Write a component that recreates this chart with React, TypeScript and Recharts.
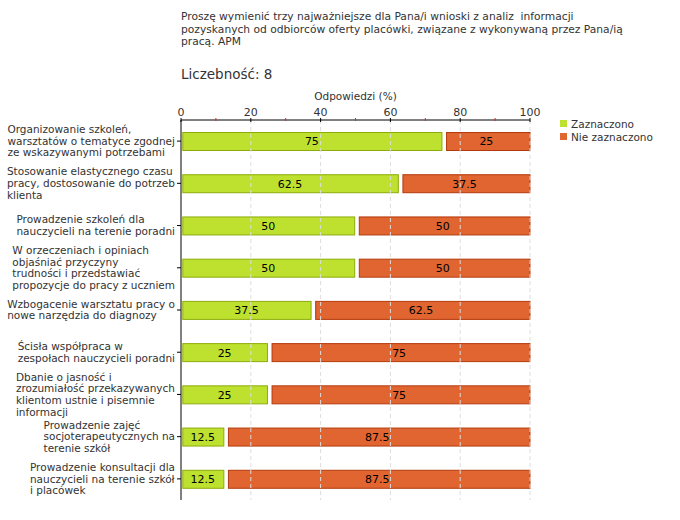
import React from 'react';
import { BarChart, Bar, XAxis, YAxis, ReferenceLine, LabelList } from 'recharts';

const categories: string[][] = [
  ['Organizowanie szkoleń,', 'warsztatów o tematyce zgodnej', 'ze wskazywanymi potrzebami'],
  ['Stosowanie elastycznego czasu', 'pracy, dostosowanie do potrzeb', 'klienta'],
  ['Prowadzenie szkoleń dla', 'nauczycieli na terenie poradni'],
  ['W orzeczeniach i opiniach', 'objaśniać przyczyny', 'trudności i przedstawiać', 'propozycje do pracy z uczniem'],
  ['Wzbogacenie warsztatu pracy o', 'nowe narzędzia do diagnozy'],
  ['Ścisła współpraca w', 'zespołach nauczycieli poradni'],
  ['Dbanie o jasność i', 'zrozumiałość przekazywanych', 'klientom ustnie i pisemnie', 'informacji'],
  ['Prowadzenie zajęć', 'socjoterapeutycznych na', 'terenie szkół'],
  ['Prowadzenie konsultacji dla', 'nauczycieli na terenie szkół', 'i placówek'],
];
const zaznaczono = [75, 62.5, 50, 50, 37.5, 25, 25, 12.5, 12.5];
const nieZaznaczono = [25, 37.5, 50, 50, 62.5, 75, 75, 87.5, 87.5];
const xTicks = [0, 10, 20, 30, 40, 50, 60, 70, 80, 90, 100];
const gridValues = [20, 40, 60, 80, 100];
const titleLines = [
  'Proszę wymienić trzy najważniejsze dla Pana/i wnioski z analiz  informacji',
  'pozyskanych od odbiorców oferty placówki, związane z wykonywaną przez Pana/ią',
  'pracą. APM',
];
const countLabel = 'Liczebność: 8';
const axisTitle = 'Odpowiedzi (%)';
const seriesNames = ['Zaznaczono', 'Nie zaznaczono'];

const FONT = '"DejaVu Sans", Verdana, sans-serif';
const GREEN = '#bde12e';
const GREEN_STROKE = '#8eab0c';
const RED = '#e06530';
const RED_STROKE = '#b33a0c';
const TEXT = '#333333';

const data = categories.map((c, i) => ({
  key: String(i),
  lines: c,
  z: zaznaczono[i],
  n: nieZaznaczono[i],
}));

let ctx: CanvasRenderingContext2D | null = null;
function measure(text: string, size: number): number {
  if (!ctx) {
    const c = document.createElement('canvas');
    ctx = c.getContext('2d');
  }
  if (!ctx) return text.length * size * 0.58;
  ctx.font = `${size}px "DejaVu Sans"`;
  return ctx.measureText(text).width;
}

const Y_FS = 10.5;
const Y_LH = 11.6;

const YTick = (props: any) => {
  const { x, y, payload } = props;
  const lines: string[] = data[Number(payload.value)]?.lines ?? [];
  const w = Math.max(...lines.map((l) => measure(l, Y_FS)));
  const left = x - w;
  const startY = y - ((lines.length - 1) * Y_LH) / 2;
  return (
    <g>
      {lines.map((l, i) => (
        <text
          key={i}
          x={left}
          y={startY + i * Y_LH}
          dy="0.35em"
          fontSize={Y_FS}
          fontFamily={FONT}
          fill={TEXT}
          textAnchor="start"
        >
          {l}
        </text>
      ))}
    </g>
  );
};

const XTick = (props: any) => {
  const { x, y, payload } = props;
  const v = payload.value;
  if (v % 20 !== 0) {
    return <line x1={x} x2={x} y1={y - 2} y2={y + 1} stroke="#e02020" strokeWidth={1} />;
  }
  return (
    <g>
      <line x1={x} x2={x} y1={y - 2} y2={y + 2} stroke="#000" strokeWidth={1} />
      <text x={x} y={y - 4} fontSize={11} fontFamily={FONT} fill={TEXT} textAnchor="middle">
        {v}
      </text>
    </g>
  );
};

const GreenShape = (props: any) => {
  const { x, y, width, height } = props;
  return (
    <rect
      x={x + 1.8}
      y={y + 0.5}
      width={Math.max(width - 2.6, 0)}
      height={height - 1}
      fill={GREEN}
      stroke={GREEN_STROKE}
      strokeWidth={1}
    />
  );
};

const RedShape = (props: any) => {
  const { x, y, width, height } = props;
  return (
    <rect
      x={x + 3.8}
      y={y + 0.5}
      width={Math.max(width - 3.8, 0)}
      height={height - 1}
      fill={RED}
      stroke={RED_STROKE}
      strokeWidth={1}
    />
  );
};

const LegendBox = () => (
  <div
    style={{
      position: 'absolute',
      left: 560,
      top: 117,
      fontFamily: FONT,
      fontSize: 10.5,
      color: TEXT,
    }}
  >
    {seriesNames.map((n, i) => (
      <div key={n} style={{ display: 'flex', alignItems: 'center', height: 13 }}>
        <span
          style={{
            display: 'inline-block',
            width: 7,
            height: 7,
            background: i === 0 ? GREEN : RED,
            marginRight: 4,
          }}
        />
        <span>{n}</span>
      </div>
    ))}
  </div>
);

export default function App() {
  return (
    <div style={{ position: 'absolute', left: 0, top: 0, width: 680, height: 520, background: '#fff' }}>
      <div
        style={{
          position: 'absolute',
          left: 181,
          top: 11,
          fontFamily: FONT,
          fontSize: 10.7,
          lineHeight: '12.5px',
          color: TEXT,
          whiteSpace: 'pre',
        }}
      >
        {titleLines.map((l) => (
          <div key={l}>{l}</div>
        ))}
      </div>
      <div
        style={{
          position: 'absolute',
          left: 181,
          top: 66,
          fontFamily: FONT,
          fontSize: 13.5,
          color: TEXT,
          whiteSpace: 'pre',
        }}
      >
        {countLabel}
      </div>
      <div
        style={{
          position: 'absolute',
          left: 290,
          width: 131,
          top: 90,
          textAlign: 'center',
          fontFamily: FONT,
          fontSize: 10.5,
          color: TEXT,
        }}
      >
        {axisTitle}
      </div>
      <LegendBox />
      <div style={{ position: 'absolute', left: 0, top: 0 }}>
        <BarChart
          width={680}
          height={520}
          data={data}
          layout="vertical"
          margin={{ top: 100, right: 150, bottom: 20, left: 0 }}
          barSize={19}
        >
          {gridValues.map((g) => (
            <ReferenceLine key={g} x={g} stroke="#dddddd" strokeDasharray="4 3" />
          ))}
          <XAxis
            type="number"
            orientation="top"
            domain={[0, 100]}
            ticks={xTicks}
            interval={0}
            height={20}
            tickSize={0}
            tickMargin={0}
            tickLine={false}
            axisLine={{ stroke: '#000' }}
            tick={<XTick />}
          />
          <YAxis
            type="category"
            dataKey="key"
            width={181}
            tickSize={4}
            tickMargin={2}
            tickLine={{ stroke: '#000' }}
            axisLine={{ stroke: '#000' }}
            tick={<YTick />}
            interval={0}
          />
          <Bar dataKey="z" stackId="a" name={seriesNames[0]} shape={<GreenShape />} isAnimationActive={false}>
            <LabelList dataKey="z" position="center" fill="#000" fontSize={11} fontFamily={FONT} />
          </Bar>
          <Bar dataKey="n" stackId="a" name={seriesNames[1]} shape={<RedShape />} isAnimationActive={false}>
            <LabelList dataKey="n" position="center" fill="#000" fontSize={11} fontFamily={FONT} />
          </Bar>
        </BarChart>
      </div>
    </div>
  );
}
